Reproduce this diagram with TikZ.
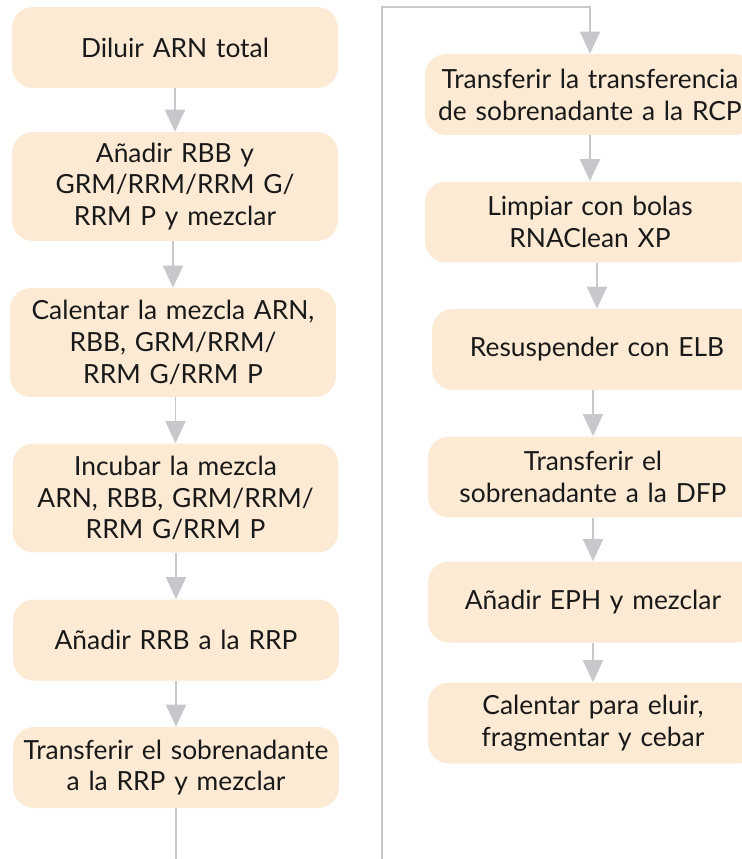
\documentclass[tikz,border=0pt]{standalone}
\usepackage{fontspec}
\setmainfont{Lato}
\usetikzlibrary{arrows.meta}
\definecolor{boxfill}{RGB}{253,234,212}
\definecolor{linegray}{RGB}{200,200,204}
\definecolor{inkblack}{RGB}{25,25,25}
\tikzset{
  stepbox/.style={fill=boxfill, rounded corners=0.42cm, minimum width=6.52cm,
    minimum height=1.62cm, align=center, text width=6.4cm, inner sep=0pt,
    text=inkblack, font=\fontsize{15}{18.1}\selectfont},
  widebox/.style={stepbox, minimum width=6.6cm},
  tallbox/.style={minimum height=2.18cm},
  flow/.style={draw=linegray, line width=1.1pt, -{Triangle[length=0.44cm,width=0.4cm]}},
  rail/.style={draw=linegray, line width=1.1pt},
}

\begin{document}
\begin{tikzpicture}[x=0.02cm, y=-0.02cm]
  \clip (0,0) rectangle (742,859);
  % left column
  \node[stepbox] (l1) at (175,47.5) {Diluir ARN total};
  \node[stepbox, tallbox] (l2) at (175,186.5) {Añadir RBB y\\GRM/RRM/RRM G/\\RRM P y mezclar};
  \node[stepbox, tallbox] (l3) at (173,342.5) {Calentar la mezcla ARN,\\RBB, GRM/RRM/\\RRM G/RRM P};
  \node[stepbox, tallbox] (l4) at (175.5,498) {Incubar la mezcla\\ARN, RBB, GRM/RRM/\\RRM G/RRM P};
  \node[stepbox] (l5) at (176,640) {Añadir RRB a la RRP};
  \node[stepbox] (l6) at (176,767.5) {Transferir el sobrenadante\\a la RRP y mezclar};
  % right column
  \node[widebox] (r1) at (590,94.5) {Transferir la transferencia\\de sobrenadante a la RCP};
  \node[widebox] (r2) at (590,222) {Limpiar con bolas\\RNAClean XP};
  \node[widebox] (r3) at (597,349.5) {Resuspender con ELB};
  \node[widebox] (r4) at (593,477) {Transferir el\\sobrenadante a la DFP};
  \node[widebox] (r5) at (593,602) {Añadir EPH y mezclar};
  \node[widebox] (r6) at (593,723) {Calentar para eluir,\\fragmentar y cebar};

  \foreach \a/\b in {l1/l2, l2/l3, l3/l4, l4/l5, l5/l6, r1/r2, r2/r3, r3/r4, r4/r5, r5/r6}
    \draw[flow] (\a.south -| \b.north) -- (\b.north);

  % link between the columns
  \coordinate (lend) at (176,859);
  \coordinate (rfoot) at (382,859);
  \coordinate (rhead) at (382,7);
  \draw[rail] (l6.south) -- (lend);
  \draw[flow] (rfoot) -- (rhead) -| (r1.north);
\end{tikzpicture}
\end{document}
